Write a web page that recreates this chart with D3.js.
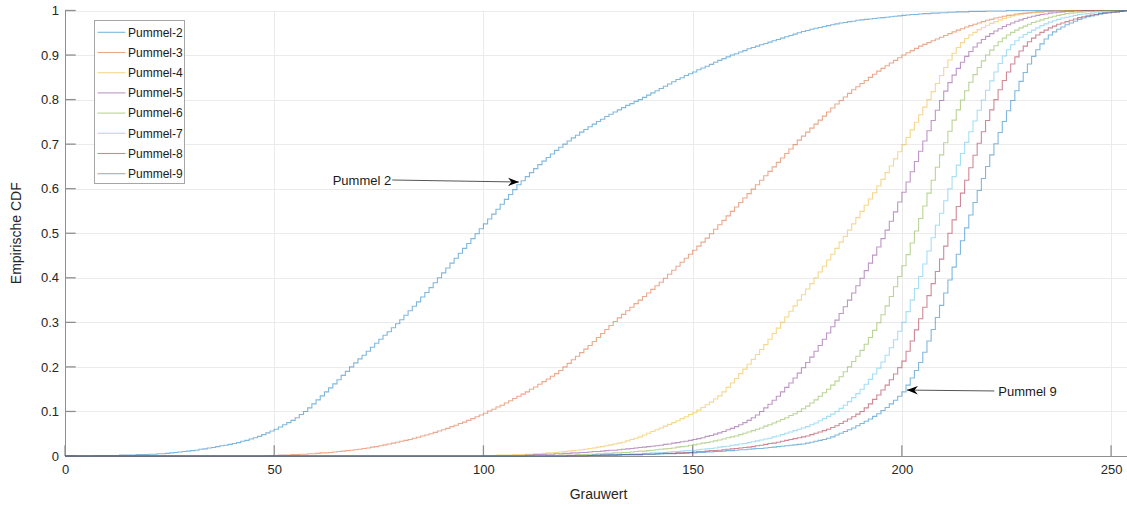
<!DOCTYPE html>
<html>
<head>
<meta charset="utf-8">
<script src="https://cdn.jsdelivr.net/npm/d3@7"></script>
<style>
	body { margin: 0; background: #fff; }
	svg { display: block; font-family: 'Liberation Sans', Arial, sans-serif; }
</style>
</head>
<body>
<svg id="chart"></svg>
<script>
const serien = ['Pummel-2', 'Pummel-3', 'Pummel-4', 'Pummel-5', 'Pummel-6', 'Pummel-7', 'Pummel-8', 'Pummel-9'];

// first grey value of each list below; before it the CDF is 0
const startGrau = [0, 45, 100, 110, 115, 125, 125, 120];

const pummel2 = [
	0,0,0,0,0,0,0,.001,.001,.001,
	.001,.001,.001,.002,.002,.002,.002,.003,.003,.003,
	.004,.004,.005,.005,.006,.007,.008,.009,.010,.011,
	.012,.013,.015,.016,.018,.019,.021,.023,.024,.026,
	.028,.030,.033,.035,.038,.041,.044,.048,.052,.056,
	.060,.065,.070,.075,.080,.086,.093,.100,.108,.117,
	.126,.135,.144,.153,.162,.171,.181,.190,.200,.209,
	.218,.226,.235,.244,.253,.262,.271,.279,.288,.297,
	.306,.316,.326,.336,.346,.357,.367,.378,.389,.400,
	.411,.422,.433,.444,.455,.466,.477,.488,.499,.510,
	.521,.532,.543,.554,.565,.576,.587,.598,.609,.618,
	.627,.636,.645,.654,.662,.670,.678,.686,.693,.700,
	.707,.714,.720,.727,.733,.739,.745,.751,.756,.762,
	.767,.772,.777,.782,.787,.791,.796,.800,.805,.810,
	.815,.820,.825,.830,.835,.840,.845,.849,.854,.858,
	.862,.867,.871,.875,.879,.884,.888,.892,.896,.900,
	.903,.907,.910,.914,.917,.920,.923,.926,.929,.932,
	.935,.938,.941,.944,.947,.950,.953,.955,.958,.960,
	.962,.964,.966,.968,.970,.972,.973,.975,.976,.978,
	.979,.980,.981,.982,.983,.984,.985,.986,.987,.988,
	.989,.990,.991,.991,.992,.993,.993,.994,.994,.995,
	.995,.996,.996,.997,.997,.997,.998,.998,.998,.998,
	.999,.999,.999,.999,.999,1
];
const pummel3 = [
	0,0,0,.001,.001,
	.001,.002,.002,.002,.003,.003,.004,.004,.005,.005,
	.006,.007,.007,.008,.009,.010,.011,.012,.013,.014,
	.015,.017,.018,.020,.021,.023,.025,.027,.029,.031,
	.033,.035,.037,.040,.042,.045,.047,.050,.053,.056,
	.059,.062,.066,.069,.073,.076,.080,.084,.088,.092,
	.096,.101,.105,.110,.114,.119,.124,.129,.134,.139,
	.144,.150,.155,.161,.167,.173,.179,.185,.192,.200,
	.208,.216,.224,.232,.240,.248,.257,.266,.275,.284,
	.293,.302,.310,.318,.326,.334,.342,.350,.358,.366,
	.374,.382,.390,.399,.408,.417,.426,.435,.444,.453,
	.462,.471,.480,.489,.499,.509,.519,.529,.539,.549,
	.559,.569,.579,.589,.599,.609,.619,.629,.639,.649,
	.659,.669,.679,.689,.699,.709,.718,.727,.736,.745,
	.754,.763,.772,.781,.790,.798,.806,.814,.822,.829,
	.836,.843,.850,.857,.864,.870,.876,.882,.888,.894,
	.900,.905,.910,.915,.920,.924,.928,.932,.936,.940,
	.944,.948,.952,.956,.959,.963,.966,.969,.972,.975,
	.978,.980,.983,.985,.987,.989,.990,.992,.993,.994,
	.995,.996,.997,.997,.998,.998,.999,.999,.999,1
];
const pummel4 = [
	.001,.001,.001,.002,.002,.002,.002,.003,.003,.003,
	.004,.004,.005,.005,.006,.007,.007,.008,.009,.010,
	.011,.012,.013,.014,.015,.017,.018,.020,.021,.023,
	.025,.027,.029,.031,.034,.037,.040,.043,.047,.051,
	.055,.059,.063,.067,.071,.075,.079,.084,.088,.093,
	.097,.103,.109,.115,.121,.128,.135,.144,.154,.164,
	.174,.185,.195,.206,.217,.228,.239,.250,.262,.275,
	.287,.300,.312,.325,.337,.350,.362,.375,.387,.400,
	.413,.426,.440,.453,.466,.480,.493,.507,.521,.535,
	.549,.563,.577,.591,.606,.621,.636,.651,.667,.683,
	.699,.715,.732,.749,.766,.783,.800,.818,.836,.854,
	.872,.889,.904,.917,.928,.937,.945,.951,.957,.962,
	.967,.971,.975,.979,.982,.985,.988,.990,.992,.993,
	.994,.995,.996,.997,.998,.998,.999,.999,1
];
const pummel5 = [
	.002,.002,.003,.003,.003,.004,.004,.005,.005,.006,
	.006,.007,.007,.008,.008,.009,.010,.010,.011,.012,
	.013,.013,.014,.015,.016,.017,.018,.019,.020,.021,
	.022,.023,.024,.026,.027,.029,.030,.032,.033,.035,
	.037,.039,.041,.044,.046,.049,.052,.055,.059,.062,
	.066,.070,.075,.080,.086,.092,.100,.108,.116,.125,
	.134,.144,.154,.164,.175,.186,.198,.210,.222,.235,
	.248,.262,.276,.290,.305,.320,.335,.350,.366,.382,
	.399,.416,.433,.451,.469,.488,.507,.527,.548,.570,
	.592,.615,.638,.661,.684,.707,.730,.753,.776,.798,
	.819,.838,.855,.870,.884,.897,.908,.918,.927,.935,
	.942,.948,.954,.959,.964,.968,.972,.976,.979,.982,
	.985,.987,.989,.991,.992,.994,.995,.996,.997,.998,
	.998,.999,.999,1
];
const pummel6 = [
	.001,.001,.001,.002,.002,
	.002,.002,.003,.003,.003,.004,.004,.005,.005,.006,
	.006,.007,.007,.008,.008,.009,.010,.011,.011,.012,
	.013,.014,.015,.016,.017,.018,.020,.021,.022,.024,
	.025,.027,.029,.030,.032,.034,.036,.038,.041,.043,
	.045,.048,.051,.054,.057,.060,.063,.067,.070,.074,
	.078,.082,.086,.091,.095,.100,.106,.112,.119,.126,
	.134,.142,.150,.159,.168,.178,.189,.200,.212,.224,
	.237,.251,.266,.282,.299,.317,.337,.358,.380,.403,
	.427,.452,.478,.505,.533,.561,.590,.619,.648,.676,
	.703,.729,.754,.777,.799,.820,.839,.856,.872,.887,
	.900,.911,.921,.930,.938,.945,.951,.956,.961,.965,
	.969,.973,.976,.979,.982,.985,.987,.989,.991,.993,
	.994,.995,.996,.997,.998,.998,.999,.999,1
];
const pummel7 = [
	.001,.002,.002,.002,.002,
	.003,.003,.003,.004,.004,.005,.005,.005,.006,.006,
	.007,.007,.008,.008,.009,.010,.010,.011,.012,.012,
	.013,.014,.015,.016,.017,.018,.020,.021,.022,.024,
	.025,.027,.028,.030,.032,.034,.036,.038,.040,.043,
	.045,.048,.051,.054,.057,.060,.063,.066,.070,.074,
	.079,.084,.089,.094,.100,.107,.114,.122,.131,.140,
	.150,.161,.172,.184,.197,.211,.226,.243,.261,.280,
	.300,.324,.350,.376,.403,.431,.460,.490,.518,.545,
	.573,.600,.627,.653,.679,.704,.728,.752,.776,.799,
	.821,.842,.862,.881,.898,.912,.923,.932,.940,.946,
	.951,.956,.961,.966,.970,.974,.977,.980,.983,.985,
	.987,.989,.991,.992,.993,.994,.995,.996,.997,.998,
	.998,.999,.999,1
];
const pummel8 = [
	.001,.001,.001,.002,.002,
	.002,.002,.002,.003,.003,.003,.003,.003,.004,.004,
	.004,.005,.005,.006,.006,.006,.007,.007,.008,.008,
	.009,.010,.010,.011,.012,.012,.013,.014,.015,.016,
	.017,.018,.019,.020,.021,.023,.024,.026,.028,.029,
	.031,.033,.035,.037,.039,.041,.043,.045,.048,.051,
	.054,.057,.060,.064,.068,.073,.078,.083,.088,.094,
	.100,.108,.117,.127,.137,.148,.159,.171,.184,.198,
	.213,.235,.258,.283,.308,.334,.360,.387,.414,.442,
	.471,.500,.530,.560,.590,.619,.647,.675,.702,.728,
	.753,.777,.800,.822,.843,.862,.880,.896,.909,.920,
	.930,.938,.945,.951,.956,.961,.965,.969,.972,.975,
	.978,.981,.984,.986,.988,.990,.991,.993,.994,.995,
	.996,.997,.998,.999,1
];
const pummel9 = [
	.001,.001,.001,.001,.001,.001,.002,.002,.002,.002,
	.002,.002,.003,.003,.003,.003,.003,.003,.004,.004,
	.004,.004,.005,.005,.005,.005,.006,.006,.006,.007,
	.007,.008,.008,.009,.009,.010,.010,.011,.012,.012,
	.013,.014,.014,.015,.016,.017,.017,.018,.019,.020,
	.021,.022,.023,.024,.025,.026,.027,.029,.031,.033,
	.035,.037,.040,.043,.047,.051,.055,.059,.063,.068,
	.073,.078,.083,.089,.095,.102,.109,.117,.125,.134,
	.144,.159,.175,.192,.210,.233,.258,.284,.311,.338,
	.366,.395,.424,.453,.483,.512,.541,.569,.596,.623,
	.650,.676,.701,.726,.751,.775,.798,.820,.841,.861,
	.880,.897,.912,.925,.936,.945,.952,.958,.963,.968,
	.972,.976,.980,.983,.986,.988,.990,.992,.994,.995,
	.996,.997,.998,.999,1
];

const werte = [pummel2, pummel3, pummel4, pummel5, pummel6, pummel7, pummel8, pummel9];

const xTicks = [0, 50, 100, 150, 200, 250];
const yTicks = [0, 0.1, 0.2, 0.3, 0.4, 0.5, 0.6, 0.7, 0.8, 0.9, 1];
const xDomain = [0, 255];

// annotation arrows: text, arrow tail and head in data units
const pfeile = [
	{ text: 'Pummel 2', von: [78.2, 0.6195], nach: [108.5, 0.615], anchor: 'end' },
	{ text: 'Pummel 9', von: [222.1, 0.146], nach: [201.2, 0.148], anchor: 'start' }
];

const farben = ['#0072BD', '#D95319', '#EDB120', '#7E2F8E', '#77AC30', '#4DBEEE', '#A2142F', '#0072BD'];

const width = 1127;
const height = 506;
const margin = { left: 65, top: 10.5, right: 1132, bottom: 456 };

const svg = d3.select('#chart').attr('width', width).attr('height', height);

const x = d3.scaleLinear().domain(xDomain).range([margin.left, margin.right]);
const y = d3.scaleLinear().domain([0, 1]).range([margin.bottom, margin.top]);

const defs = svg.append('defs');
defs.append('marker')
	.attr('id', 'kopf')
	.attr('viewBox', '-11 -5 12 10')
	.attr('markerWidth', 12)
	.attr('markerHeight', 10)
	.attr('markerUnits', 'userSpaceOnUse')
	.attr('refX', 0)
	.attr('refY', 0)
	.attr('orient', 'auto')
	.append('path')
	.attr('d', 'M0,0L-11,-4.2L-7.5,0L-11,4.2Z')
	.attr('fill', '#000');

// grid
const grid = svg.append('g').attr('stroke', '#ebebeb').attr('stroke-width', 1);
grid.selectAll('.gx').data(xTicks).enter().append('line')
	.attr('x1', d => Math.round(x(d)) + 0.5).attr('x2', d => Math.round(x(d)) + 0.5)
	.attr('y1', margin.top).attr('y2', margin.bottom);
grid.selectAll('.gy').data(yTicks).enter().append('line')
	.attr('x1', margin.left).attr('x2', margin.right)
	.attr('y1', d => Math.round(y(d)) + 0.5).attr('y2', d => Math.round(y(d)) + 0.5);

// axes
const xAxis = d3.axisBottom(x).tickValues(xTicks).tickSize(0).tickPadding(9).tickFormat(d3.format('d'));
const yAxis = d3.axisLeft(y).tickValues(yTicks).tickSize(0).tickPadding(6).tickFormat(d => d3.format('')(+d.toFixed(1)));

const gx = svg.append('g').attr('transform', `translate(0,${margin.bottom})`).call(xAxis);
const gy = svg.append('g').attr('transform', `translate(${margin.left},0)`).call(yAxis);

[gx, gy].forEach(g => {
	g.select('.domain').attr('stroke', '#8f8f8f');
	g.selectAll('text').attr('font-size', 13).attr('fill', '#262626').attr('font-family', null);
});

// inward ticks
const ticks = svg.append('g').attr('stroke', '#8f8f8f').attr('stroke-width', 1.3);
ticks.selectAll('.tx').data(xTicks).enter().append('line')
	.attr('x1', d => x(d)).attr('x2', d => x(d))
	.attr('y1', margin.bottom).attr('y2', margin.bottom - 10.7);
ticks.selectAll('.ty').data(yTicks).enter().append('line')
	.attr('x1', margin.left).attr('x2', margin.left + 10.7)
	.attr('y1', d => y(d)).attr('y2', d => y(d));

// ECDF stairs
const stufen = d3.line()
	.x(d => x(d[0]))
	.y(d => y(d[1]))
	.curve(d3.curveStepAfter);

const kurven = svg.append('g').attr('fill', 'none');
werte.forEach((liste, i) => {
	const punkte = [[xDomain[0], 0]].concat(liste.map((v, j) => [startGrau[i] + j, v]));
	punkte.push([xDomain[1], liste[liste.length - 1]]);
	kurven.append('path')
		.attr('d', stufen(punkte))
		.attr('stroke', farben[i])
		.attr('stroke-opacity', 0.5)
		.attr('stroke-width', 1.1);
});

// labels
svg.append('text')
	.text('Grauwert')
	.attr('x', (margin.left + margin.right) / 2)
	.attr('y', 499)
	.attr('text-anchor', 'middle')
	.attr('font-size', 14)
	.attr('fill', '#262626');

svg.append('text')
	.text('Empirische CDF')
	.attr('transform', `translate(21,${(margin.top + margin.bottom) / 2}) rotate(-90)`)
	.attr('text-anchor', 'middle')
	.attr('font-size', 14)
	.attr('fill', '#262626');

// legend
const legend = svg.append('g').attr('transform', 'translate(94.5,20.5)');
legend.append('rect')
	.attr('width', 90)
	.attr('height', 163)
	.attr('fill', '#fff')
	.attr('stroke', '#a6a6a6')
	.attr('stroke-width', 1);

const eintrag = legend.selectAll('.eintrag').data(serien).enter().append('g')
	.attr('transform', (d, i) => `translate(0,${11.8 + i * 20.2})`);
eintrag.append('line')
	.attr('x1', 3).attr('x2', 31)
	.attr('stroke', (d, i) => farben[i])
	.attr('stroke-opacity', 0.5)
	.attr('stroke-width', 1.1);
eintrag.append('text')
	.text(d => d)
	.attr('x', 33.5)
	.attr('dy', '0.36em')
	.attr('font-size', 12)
	.attr('fill', '#1a1a1a');

// annotations
const notiz = svg.append('g');
pfeile.forEach(p => {
	notiz.append('line')
		.attr('x1', x(p.von[0])).attr('y1', y(p.von[1]))
		.attr('x2', x(p.nach[0])).attr('y2', y(p.nach[1]))
		.attr('stroke', '#555')
		.attr('stroke-width', 1)
		.attr('marker-end', 'url(#kopf)');
	notiz.append('text')
		.text(p.text)
		.attr('x', x(p.von[0]) + (p.anchor === 'end' ? -1 : 4))
		.attr('y', y(p.von[1]))
		.attr('dy', '0.36em')
		.attr('text-anchor', p.anchor)
		.attr('font-size', 13)
		.attr('fill', '#1a1a1a');
});
</script>
</body>
</html>
